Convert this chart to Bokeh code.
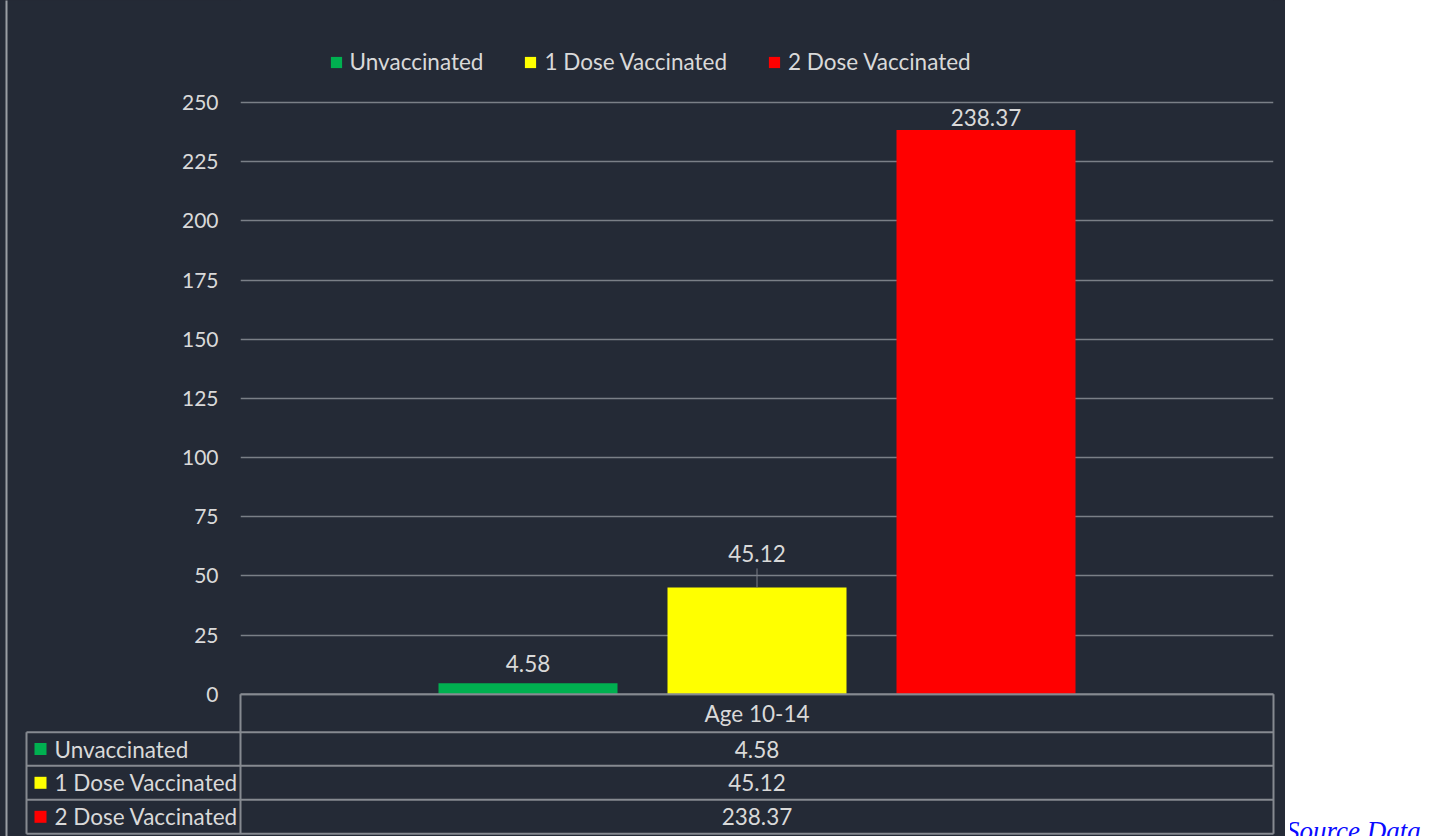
from bokeh.plotting import figure
from bokeh.models import (FactorRange, Range1d, ColumnDataSource, FixedTicker,
                          Legend, LegendItem, Div)
from bokeh.layouts import row
from bokeh.transform import dodge
from bokeh.core.properties import value
from bokeh.embed import file_html
from bokeh.resources import INLINE

# ---------------- data ----------------
categories = ["Age 10-14"]
series = ["Unvaccinated", "1 Dose Vaccinated", "2 Dose Vaccinated"]
values = [4.58, 45.12, 238.37]
colors = ["#00b050", "#ffff00", "#ff0000"]
y_ticks = [0, 25, 50, 75, 100, 125, 150, 175, 200, 225, 250]
value_labels = ["4.58", "45.12", "238.37"]

# ---------------- style / layout constants ----------------
BG = "#242a36"
GRID = "#7a7f87"
LINE = "#868a91"
TXT = "#d9d9d9"
FONT = "Lato"
FS_AX = "21px"
FS = "22.5px"

W, H = 1285, 836
FL, FR = 240, 1273          # frame left / right (px)
Y0, Y250 = 693.7, 102.0     # pixel rows of value 0 and 250
ppu = (Y0 - Y250) / 250.0   # px per unit
y_top = 250 + Y250 / ppu
y_bot = -(H - Y0) / ppu


def fx(px):
    return (px - FL) / (FR - FL)


def fy(py):
    return -(py - Y0) / ppu


bar_w = 179 / (FR - FL)
step = 229 / (FR - FL)
label_gap_px = [20, 34, 13]

p = figure(width=W, height=H, x_range=FactorRange(factors=categories, range_padding=0),
           y_range=Range1d(y_bot, y_top), output_backend="svg", toolbar_location=None,
           x_axis_location=None, min_border_left=FL, min_border_right=W - FR,
           min_border_top=0, min_border_bottom=0)
p.background_fill_color = BG
p.border_fill_color = BG
p.outline_line_color = None
p.styles = {"background-color": BG}

# y axis
yax = p.yaxis[0]
yax.ticker = FixedTicker(ticks=y_ticks)
yax.axis_line_color = None
yax.major_tick_line_color = None
yax.minor_tick_line_color = None
yax.major_tick_out = 0
yax.major_label_standoff = 22
yax.major_label_text_color = TXT
yax.major_label_text_font = FONT
yax.major_label_text_font_size = FS_AX

p.xgrid.grid_line_color = None
p.xgrid.visible = False
p.ygrid.ticker = FixedTicker(ticks=y_ticks)
p.ygrid.grid_line_color = GRID
p.ygrid.grid_line_width = 1.5

# bars + value labels
items = []
for i, (s, v, c, lab, gap) in enumerate(zip(series, values, colors, value_labels, label_gap_px)):
    off = (i - 1) * step
    src = ColumnDataSource(dict(cat=categories, val=[v], lab=[lab]))
    r = p.vbar(x=dodge("cat", off, range=p.x_range), top="val", width=bar_w, source=src,
               fill_color=c, line_color=None)
    items.append(LegendItem(label=s, renderers=[r]))
    p.text(x=dodge("cat", off, range=p.x_range), y="val", text="lab", source=src,
           y_offset=-gap, text_align="center", text_baseline="middle",
           text_color=TXT, text_font=value(FONT), text_font_size=FS)

# leader line for the 1-dose label
p.segment(x0=[fx(756.5)], x1=[fx(756.5)], y0=[values[1]], y1=[values[1] + 19 / ppu],
          line_color=GRID, line_width=1)

legend = Legend(items=items, orientation="horizontal", location=(328.6 - FL, H - 75),
                glyph_width=14, glyph_height=14, label_standoff=7, spacing=40,
                padding=0, margin=0, border_line_color=None, background_fill_alpha=0,
                label_text_color=TXT, label_text_font=FONT, label_text_font_size=FS)
p.add_layout(legend)

# ---------------- data table below the chart ----------------
row_edges = [731.7, 765.3, 799.3, 833.3]
row_centers = [748.5, 782.3, 816.3]
x_tab_left = 26

seg_x0 = [fx(FL), fx(FL), fx(FR), fx(x_tab_left)]
seg_x1 = [fx(FR), fx(FL), fx(FR), fx(x_tab_left)]
seg_y0 = [0, 0, 0, fy(row_edges[0])]
seg_y1 = [0, fy(row_edges[-1]), fy(row_edges[-1]), fy(row_edges[-1])]
for e in row_edges:
    seg_x0.append(fx(x_tab_left)); seg_x1.append(fx(FR))
    seg_y0.append(fy(e)); seg_y1.append(fy(e))
p.segment(x0=seg_x0, x1=seg_x1, y0=seg_y0, y1=seg_y1, line_color=LINE,
          line_width=2, level="overlay")
# panel's left border
p.segment(x0=[fx(6)], x1=[fx(6)], y0=[fy(0)], y1=[fy(H)], line_color="#9a9ea4",
          line_width=2, level="overlay")

p.text(x=categories, y=[fy(713)], text=categories, text_align="center",
       text_baseline="middle", text_color=TXT, text_font=value(FONT),
       text_font_size=FS, level="overlay")
p.text(x=[categories[0]] * 3, y=[fy(c) for c in row_centers], text=value_labels,
       text_align="center", text_baseline="middle", text_color=TXT,
       text_font=value(FONT), text_font_size=FS, level="overlay")
sq = 12 / (FR - FL)
p.segment(x0=[fx(34)] * 3, x1=[fx(34) + sq] * 3, y0=[fy(c) for c in row_centers],
          y1=[fy(c) for c in row_centers], line_color=colors, line_width=12,
          line_cap="butt", level="overlay")
p.text(x=[fx(54)] * 3, y=[fy(c) for c in row_centers], text=series, text_align="left",
       text_baseline="middle", text_color=TXT, text_font=value(FONT),
       text_font_size=FS, level="overlay")

src_div = Div(text=('<div style="position:relative;width:152px;height:836px;overflow:hidden;">'
                    '<span style="position:absolute;left:-4px;top:813px;font-family:\'Liberation Serif\';'
                    'font-style:italic;font-size:27px;line-height:1;color:#0a0aff;white-space:nowrap;">'
                    'Source Data</span></div>'), width=152, height=836)

layout = row(p, src_div)
open("out.html", "w").write(file_html(layout, INLINE))
